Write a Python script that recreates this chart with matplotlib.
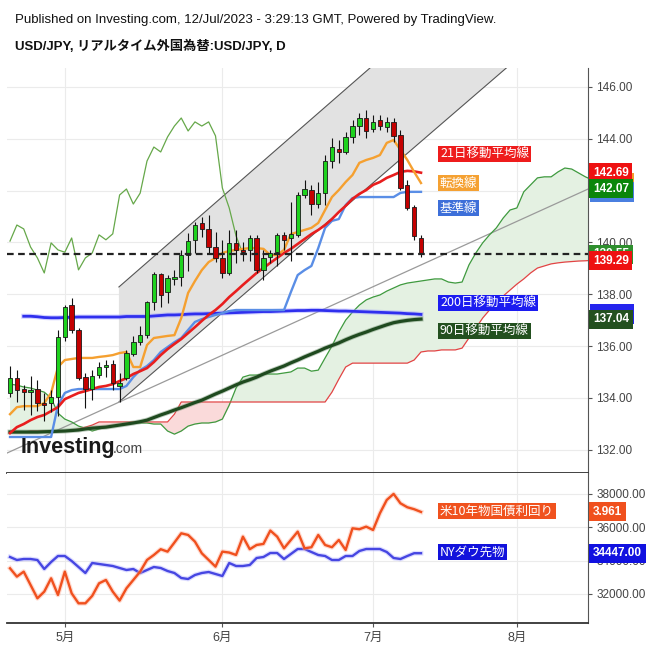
import numpy as np
import matplotlib
matplotlib.use("Agg")
import matplotlib.pyplot as plt
import matplotlib.patheffects as pe
from matplotlib.patches import Polygon, Rectangle
from matplotlib.transforms import blended_transform_factory

plt.rcParams['font.family'] = ['Liberation Sans', 'Noto Sans CJK JP', 'DejaVu Sans']

# bar 0 = 2023-04-19, one bar per weekday, last bar = 2023-07-12
month_ticks = [8, 31, 53, 74]
month_labels = ['5月', '6月', '7月', '8月']

opens = [134.19, 134.76, 134.34, 134.22, 134.34, 133.82, 133.80, 134.03, 136.35, 137.58,
         136.62, 134.80, 134.34, 134.88, 135.19, 135.30, 134.45, 134.76, 135.70, 136.15,
         136.42, 137.70, 138.78, 138.08, 138.60, 138.65, 139.51, 140.09, 140.75, 140.52,
         139.82, 139.40, 138.82, 139.98, 139.70, 139.71, 140.17, 138.94, 139.44, 139.63,
         140.29, 140.17, 140.29, 141.83, 142.02, 141.48, 141.90, 143.14, 143.61, 143.49,
         144.07, 144.49, 144.80, 144.38, 144.73, 144.46, 144.65, 144.15, 142.22, 141.37,
         140.17]
highs = [135.23, 135.07, 134.50, 134.84, 134.69, 134.20, 134.30, 136.62, 137.60, 137.85,
         136.70, 134.95, 135.07, 135.38, 135.46, 135.46, 134.95, 135.85, 136.40, 136.77,
         137.75, 138.85, 138.80, 138.75, 138.93, 139.70, 140.36, 140.79, 140.98, 141.05,
         140.40, 140.10, 140.48, 140.48, 140.00, 140.29, 140.30, 139.70, 139.70, 140.35,
         140.40, 141.55, 141.95, 142.40, 142.20, 142.33, 143.37, 144.03, 143.95, 144.26,
         144.73, 145.00, 145.10, 144.92, 144.92, 144.84, 144.80, 144.34, 142.40, 141.45,
         140.29]
lows = [134.03, 133.84, 133.53, 133.34, 133.50, 133.10, 133.45, 133.30, 136.20, 136.50,
        134.70, 133.60, 133.90, 134.76, 134.80, 134.30, 133.84, 134.70, 135.60, 136.05,
        136.30, 137.40, 137.50, 137.65, 138.35, 138.30, 138.90, 139.60, 140.20, 139.60,
        139.24, 138.62, 138.74, 139.20, 139.30, 139.30, 138.80, 138.55, 139.20, 139.10,
        139.70, 139.30, 140.20, 141.70, 141.05, 141.33, 141.45, 142.87, 143.07, 143.40,
        143.84, 144.15, 144.03, 144.26, 144.34, 144.26, 143.88, 142.02, 141.25, 140.10,
        139.44]
closes = [134.76, 134.30, 134.22, 134.30, 133.80, 133.72, 134.03, 136.35, 137.50, 136.62,
          134.76, 134.34, 134.84, 135.19, 135.27, 134.57, 134.57, 135.73, 136.15, 136.42,
          137.70, 138.78, 137.97, 138.62, 138.65, 139.51, 140.05, 140.67, 140.52, 139.82,
          139.40, 138.82, 139.98, 139.71, 139.62, 140.17, 138.94, 139.40, 139.59, 140.29,
          140.10, 140.33, 141.83, 142.06, 141.48, 141.90, 143.14, 143.68, 143.49, 144.07,
          144.49, 144.80, 144.30, 144.65, 144.49, 144.65, 144.11, 142.10, 141.33, 140.25,
          139.55]

ma21 = [132.64, 132.87, 132.99, 133.14, 133.26, 133.34, 133.49, 133.64, 133.95, 134.07,
        134.19, 134.26, 134.34, 134.42, 134.46, 134.53, 134.65, 134.76, 134.92, 135.03,
        135.15, 135.38, 135.65, 135.88, 136.08, 136.27, 136.50, 136.73, 136.97, 137.20,
        137.39, 137.62, 137.89, 138.12, 138.36, 138.59, 138.82, 139.01, 139.21, 139.40,
        139.59, 139.75, 139.94, 140.13, 140.32, 140.48, 140.67, 140.90, 141.17, 141.41,
        141.68, 141.87, 142.02, 142.22, 142.33, 142.49, 142.60, 142.72, 142.76, 142.74,
        142.69]
tenkan = [133.37, 133.64, 133.68, 133.68, 133.68, 133.80, 134.19, 135.19, 135.46, 135.50,
          135.54, 135.54, 135.54, 135.58, 135.61, 135.65, 135.73, 135.77, 135.19, 135.19,
          136.04, 136.31, 136.35, 136.39, 136.42, 137.08, 138.05, 138.51, 138.93, 139.24,
          139.40, 139.59, 139.67, 139.71, 139.75, 139.78, 139.78, 139.75, 139.51, 139.51,
          139.71, 140.32, 140.40, 140.48, 140.56, 140.75, 141.25, 141.75, 142.02, 142.33,
          142.60, 143.07, 143.18, 143.26, 143.37, 143.84, 143.95, 143.57, 143.18, 142.72,
          142.29]
kijun = [132.49, 132.49, 132.49, 132.49, 132.49, 132.49, 132.49, 133.72, 134.19, 134.30,
         134.34, 134.34, 134.34, 134.34, 134.34, 134.34, 134.34, 134.46, 134.80, 135.07,
         135.23, 135.46, 135.77, 135.96, 136.15, 136.31, 136.62, 136.93, 137.04, 137.12,
         137.20, 137.27, 137.35, 137.39, 137.39, 137.39, 137.39, 137.39, 137.39, 137.39,
         137.39, 138.08, 138.74, 138.93, 139.09, 139.78, 140.56, 140.83, 140.90, 141.44,
         141.71, 141.75, 141.75, 141.75, 141.75, 141.75, 141.75, 141.91, 141.95, 141.95,
         141.95]
# 200-day line is drawn from bar 2 on
ma200 = [137.15, 137.15, 137.13, 137.10, 137.09, 137.09, 137.10, 137.11, 137.12, 137.12,
         137.12, 137.12, 137.12, 137.12, 137.12, 137.14, 137.14, 137.14, 137.14, 137.16,
         137.18, 137.20, 137.20, 137.21, 137.23, 137.24, 137.24, 137.25, 137.26, 137.27,
         137.28, 137.29, 137.30, 137.31, 137.32, 137.33, 137.33, 137.34, 137.35, 137.36,
         137.37, 137.37, 137.38, 137.38, 137.37, 137.36, 137.35, 137.35, 137.34, 137.33,
         137.32, 137.31, 137.30, 137.29, 137.28, 137.27, 137.25, 137.24, 137.22]
ma90 = [132.68, 132.68, 132.68, 132.68, 132.68, 132.69, 132.70, 132.71, 132.72, 132.74,
        132.76, 132.80, 132.83, 132.85, 132.87, 132.91, 132.95, 132.99, 133.03, 133.08,
        133.14, 133.24, 133.34, 133.43, 133.53, 133.62, 133.72, 133.82, 133.91, 134.03,
        134.15, 134.26, 134.38, 134.50, 134.61, 134.70, 134.80, 134.92, 135.03, 135.13,
        135.23, 135.35, 135.46, 135.58, 135.69, 135.80, 135.92, 136.02, 136.12, 136.24,
        136.35, 136.45, 136.54, 136.64, 136.73, 136.82, 136.90, 136.95, 136.99, 137.02,
        137.04]
span_a = [134.53, 134.49, 134.42, 134.38, 134.30, 134.22, 133.99, 133.41, 133.18, 133.07,
          132.91, 132.83, 132.72, 132.80, 132.87, 132.91, 132.95, 132.99, 133.03, 133.03,
          133.03, 132.99, 132.99, 132.72, 132.60, 132.72, 132.91, 132.99, 133.03, 133.03,
          133.07, 133.18, 133.72, 134.38, 134.80, 134.88, 134.88, 134.92, 134.92, 134.92,
          134.96, 135.00, 135.15, 135.15, 135.03, 135.07, 135.54, 136.00, 136.54, 137.00,
          137.31, 137.58, 137.78, 137.89, 137.97, 138.12, 138.24, 138.36, 138.43, 138.47,
          138.51, 138.55, 138.59, 138.59, 138.47, 138.43, 138.47, 139.13, 139.59, 139.98,
          140.29, 140.56, 140.94, 141.25, 141.33, 141.95, 142.22, 142.49, 142.53, 142.53,
          142.72, 142.87, 142.83, 142.68, 142.53, 142.41]
span_b = [132.68, 132.68, 132.68, 132.72, 132.72, 132.72, 132.72, 132.72, 132.72, 132.72,
          132.80, 132.87, 132.95, 133.07, 133.07, 133.07, 133.07, 133.07, 133.07, 133.07,
          133.07, 133.07, 133.07, 133.07, 133.37, 133.84, 133.84, 133.84, 133.84, 133.84,
          133.84, 133.84, 133.84, 133.84, 133.84, 133.84, 133.84, 133.84, 133.84, 133.84,
          133.84, 133.84, 133.84, 133.84, 133.84, 133.84, 133.84, 134.22, 134.72, 135.19,
          135.34, 135.34, 135.34, 135.34, 135.34, 135.34, 135.34, 135.34, 135.34, 135.46,
          135.77, 135.81, 135.81, 135.85, 135.85, 135.85, 135.92, 136.31, 136.69, 137.08,
          137.39, 137.66, 137.93, 138.16, 138.39, 138.59, 138.82, 139.01, 139.09, 139.17,
          139.21, 139.24, 139.26, 139.28, 139.29, 139.31]
chikou_shift = 26

# trend channel (bar, price) and long support line
chan_x = [15.9, 80.0]
chan_upper = [138.28, 153.06]
chan_lower = [133.84, 148.45]
support_x = [-0.44, 84.4]
support_y = [131.87, 142.06]

dow = [34220, 34040, 34100, 34100, 34040, 33500, 33920, 34280, 34280, 33980,
       33620, 33260, 33860, 33800, 33740, 33680, 33560, 33440, 33500, 33260,
       33440, 33620, 33560, 33380, 33260, 32960, 32900, 33140, 33260, 33320,
       33200, 33080, 33860, 33680, 33680, 33740, 34160, 34220, 34460, 34460,
       34100, 34400, 34700, 34700, 34520, 34340, 34280, 34040, 34040, 34280,
       34280, 34580, 34700, 34700, 34700, 34520, 34160, 34100, 34280, 34447,
       34447]
us10y = [3.589, 3.534, 3.567, 3.479, 3.391, 3.435, 3.523, 3.413, 3.567, 3.424,
         3.358, 3.358, 3.407, 3.490, 3.512, 3.435, 3.376, 3.457, 3.512, 3.567,
         3.644, 3.677, 3.715, 3.699, 3.759, 3.820, 3.809, 3.765, 3.688, 3.644,
         3.600, 3.699, 3.693, 3.677, 3.798, 3.715, 3.743, 3.750, 3.838, 3.798,
         3.721, 3.776, 3.831, 3.721, 3.728, 3.809, 3.743, 3.728, 3.776, 3.710,
         3.853, 3.847, 3.864, 3.842, 3.952, 4.040, 4.080, 4.018, 3.992, 3.979,
         3.961]

legend_items = [('21日移動平均線', '#ee1c1c', 154),
                ('転換線', '#f5a132', 183),
                ('基準線', '#3d6fd9', 208),
                ('200日移動平均線', '#1c1cf0', 303),
                ('90日移動平均線', '#23501f', 331),
                ('米10年物国債利回り', '#f0521e', 511),
                ('NYダウ先物', '#1212dc', 552)]

W = 652.0
fig = plt.figure(figsize=(6.52, 6.52), dpi=100)
fig.patch.set_facecolor('white')
ax = fig.add_axes([7 / W, 1 - 473 / W, 581 / W, 405 / W])
ax2 = fig.add_axes([7 / W, 1 - 623 / W, 581 / W, 150 / W], sharex=ax)
ay = ax2.twinx()

xs = np.arange(len(closes))
cx = np.arange(len(span_a))
ax.set_xlim(-0.44, 84.38)
ax.set_ylim(131.10, 146.73)

# channel
poly = Polygon([(chan_x[0], chan_lower[0]), (chan_x[0], chan_upper[0]),
                (chan_x[1], chan_upper[1]), (chan_x[1], chan_lower[1])],
               closed=True, facecolor='#e2e2e2', edgecolor='none', zorder=1)
ax.add_patch(poly)
ax.plot(chan_x, chan_upper, color='#555555', lw=0.8, zorder=2)
ax.plot(chan_x, chan_lower, color='#555555', lw=0.8, zorder=2)
ax.plot(support_x, support_y, color='#9a9a9a', lw=0.9, zorder=2)

# cloud
a = np.array(span_a)
b = np.array(span_b)
ax.fill_between(cx, a, b, where=a >= b, interpolate=True, color='#e4f1e2', lw=0, zorder=1.5)
ax.fill_between(cx, a, b, where=a < b, interpolate=True, color='#fadada', lw=0, zorder=1.5)
ax.plot(cx, span_a, color='#3f9a3f', lw=0.9, zorder=2)
ax.plot(cx, span_b, color='#e24444', lw=0.9, zorder=2)

# chikou span
ax.plot(xs[:len(closes) - chikou_shift], closes[chikou_shift:], color='#66a84a', lw=0.9, zorder=2)

halo = lambda c, w: [pe.Stroke(linewidth=w, foreground=c, alpha=0.45), pe.Normal()]
ax.plot(xs[2:], ma200, color='#2f2fee', lw=2.0, zorder=3, path_effects=halo('#9b9bff', 3.6))
ax.plot(xs, ma90, color='#1f4a1f', lw=2.3, zorder=3, path_effects=halo('#6f8f6f', 3.6))
ax.plot(xs, kijun, color='#5a8ee6', lw=1.7, zorder=3)
ax.plot(xs, ma21, color='#e81e1e', lw=1.9, zorder=3)
ax.plot(xs, tenkan, color='#f5a030', lw=1.7, zorder=3)

# candles
o = np.array(opens)
c = np.array(closes)
up = c >= o
ax.vlines(xs, lows, highs, color='#111111', lw=0.8, zorder=4)
ax.bar(xs, np.maximum(np.abs(c - o), 0.03), bottom=np.minimum(o, c), width=0.64,
       color=np.where(up, '#1ed21e', '#c40000'), edgecolor='#1a1a1a', lw=0.6, zorder=5)

ax.axhline(closes[-1], color='#222222', lw=1.6, dashes=(3, 2), zorder=6)

# axes styling
for a_ in (ax, ax2):
    a_.set_xticks(month_ticks)
    a_.grid(True, color='#ebebeb', lw=0.8, zorder=0)
    a_.set_axisbelow(True)
    for s in ('left', 'top'):
        a_.spines[s].set_visible(False)
    a_.spines['right'].set_color('#555555')
    a_.spines['bottom'].set_color('#333333')
    a_.spines['bottom'].set_linewidth(1.3)
    a_.yaxis.tick_right()
    a_.tick_params(axis='y', colors='#555555', labelcolor='#444444', length=3, pad=3,
                   labelsize=8.5, left=False, labelleft=False, right=True, labelright=True)

ax.set_yticks(np.arange(132, 147, 2))
ax.set_yticklabels(['%.2f' % v for v in np.arange(132, 147, 2)])
ax.tick_params(axis='x', length=0, labelbottom=False)

ax2.set_ylim(30260, 39260)
ax2.set_yticks(np.arange(32000, 38001, 2000))
ax2.set_yticklabels(['%.2f' % v for v in np.arange(32000, 38001, 2000)])
ax2.set_xticklabels(month_labels)
ax2.tick_params(axis='x', colors='#555555', labelcolor='#444444', length=3, labelsize=9)
ax2.plot(xs, dow, color='#4646e2', lw=1.7, zorder=3, path_effects=halo('#b4b4ff', 3.4))

ay.set_ylim(3.228, 4.218)
ay.set_yticks([])
for s in ay.spines.values():
    s.set_visible(False)
ay.plot(xs, us10y, color='#f0501e', lw=1.7, zorder=3, path_effects=halo('#ffb09a', 3.4))


def tag(axis, value, text, color):
    tr = blended_transform_factory(axis.transAxes, axis.transData)
    axis.text(1.0 + 5 / 581, value, text, transform=tr, ha='left', va='center',
              color='white', fontsize=8.5, fontweight='bold', clip_on=False, zorder=20,
              bbox=dict(boxstyle='square,pad=0.3', fc=color, ec='none'))


def strip(axis, value, color):
    # price marker fully hidden behind the next label: only a coloured box
    tr = blended_transform_factory(axis.transAxes, axis.transData)
    h = (axis.get_ylim()[1] - axis.get_ylim()[0]) * 20 / 405
    axis.add_patch(Rectangle((1.0 + 1.5 / 581, value - h / 2), 44 / 581, h, transform=tr,
                             fc=color, ec='none', clip_on=False, zorder=19))


tag(ax, ma21[-1], '142.69', '#ee1111')
strip(ax, tenkan[-1], '#f39c2c')
strip(ax, kijun[-1], '#4a7fe0')
tag(ax, 142.07, '142.07', '#0b860b')
tag(ax, closes[-1], '139.55', '#2e8f2e')
tag(ax, span_b[84], '139.29', '#ee1111')
strip(ax, ma200[-1], '#2525ee')
tag(ax, ma90[-1], '137.04', '#23501f')
tag(ay, us10y[-1], '3.961', '#f0501e')
tag(ax2, dow[-1], '34447.00', '#1111e0')

# legend boxes
for text, color, yc in legend_items:
    fig.text(440 / W, 1 - yc / W, text, ha='left', va='center', color='white',
             fontsize=9, family=['Noto Sans CJK JP'], zorder=20,
             bbox=dict(boxstyle='square,pad=0.14', fc=color, ec='none'))

# header
fig.text(15 / W, 1 - 20 / W, 'Published on Investing.com, 12/Jul/2023 - 3:29:13 GMT, Powered by TradingView.',
         ha='left', va='center', fontsize=9.5, color='#111111')
fig.text(15 / W, 1 - 46 / W, 'USD/JPY, リアルタイム外国為替:USD/JPY, D',
         ha='left', va='center', fontsize=9.5, fontweight='bold', color='#111111')

# logo
fig.text(21 / W, 1 - 453 / W, 'Investing', ha='left', va='baseline', fontsize=15.5,
         fontweight='bold', color='#1a1a1a', family=['Liberation Sans'])
fig.text(113 / W, 1 - 453 / W, '.com', ha='left', va='baseline', fontsize=10,
         color='#444444', family=['Liberation Sans'])

fig.savefig('out.png', dpi=100, facecolor='white')
